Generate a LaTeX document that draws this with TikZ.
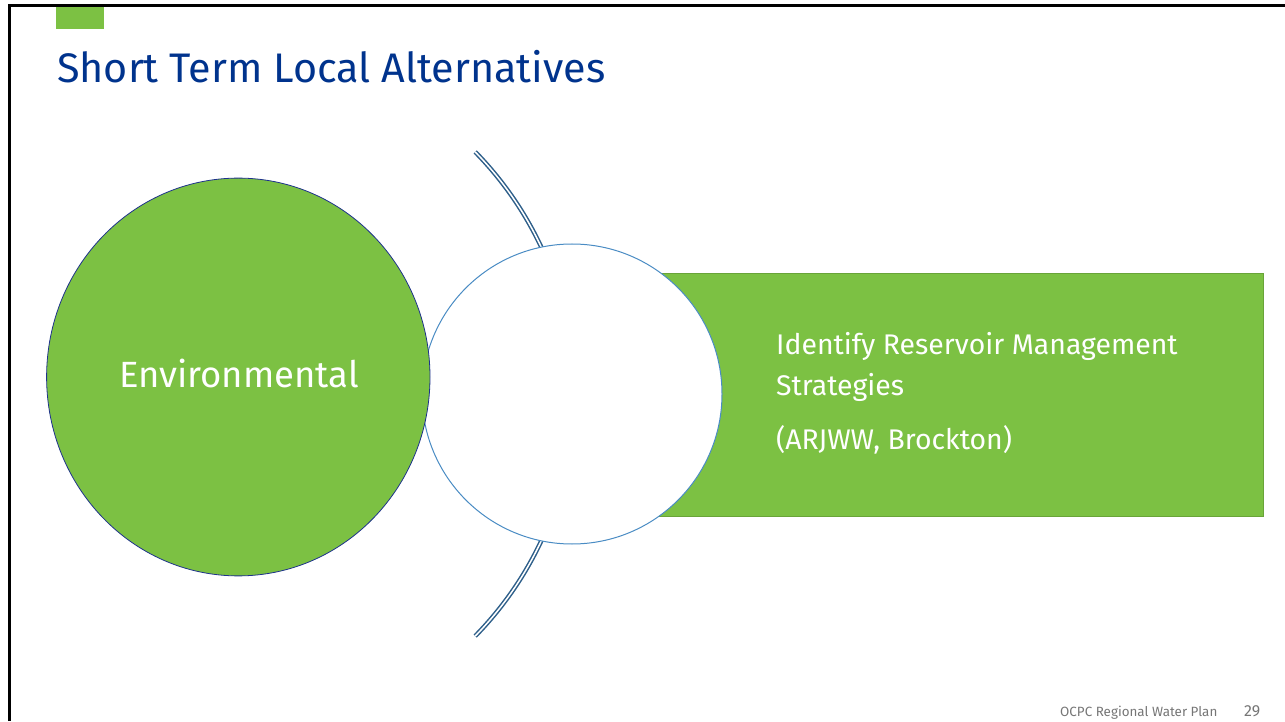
\documentclass[tikz,border=0pt]{standalone}
\usepackage{fontspec}
\setmainfont{Fira Sans}
\usetikzlibrary{positioning}
\definecolor{ocgreen}{RGB}{124,193,67}
\definecolor{octitle}{RGB}{0,51,141}
\definecolor{ocarc}{RGB}{46,95,138}
\definecolor{ocring}{RGB}{74,140,196}
\definecolor{ocedge}{RGB}{30,50,140}
\definecolor{ocfoot}{RGB}{118,118,118}
\tikzset{
    frameline/.style = {line width=2.2pt, draw=black},
    arcline/.style   = {draw=ocarc, line width=1.5pt, double=white, double distance=1.5pt},
    greenbox/.style  = {fill=ocgreen, draw=ocgreen!85!black, line width=0.6pt},
    ringcirc/.style  = {fill=white, draw=ocring, line width=1pt},
    bubble/.style    = {fill=ocgreen, draw=ocedge, line width=0.8pt},
    boxtext/.style   = {anchor=base west, inner sep=0pt, text=white, font=\fontsize{28.4}{32}\selectfont},
}

\begin{document}
\begin{tikzpicture}[x=1pt, y=1pt]
    \useasboundingbox (0,0) rectangle (1285,721);
    % frame and tab
    \draw[frameline] (9.5,0) -- (9.5,715.5) -- (1285,715.5);
    \fill[ocgreen] (56,713.7) rectangle (104,692);
    \node[anchor=base west, inner sep=0pt, text=octitle, font=\fontsize{41.3}{46}\selectfont] (title) at (57,638) {Short Term Local Alternatives};
    % bracket arcs
    \draw[arcline] (228,327) ++(44.4:346pt) arc[start angle=44.4, end angle=20, radius=346pt];
    \draw[arcline] (228,327) ++(-44.4:346pt) arc[start angle=-44.4, end angle=-20, radius=346pt];
    % box, ring and bubble
    \draw[greenbox] (600,205) rectangle (1263,448);
    \draw[ringcirc] (572,327) circle [radius=150pt];
    \draw[bubble] (238.3,344) ellipse [x radius=191.7pt, y radius=198.9pt];
    \coordinate (ringc) at (572,327);
    \node[anchor=base, inner sep=0pt, text=white, font=\fontsize{36.5}{42}\selectfont] (env) at (239,333) {Environmental};
    \node[boxtext] (b1) at (776,366) {Identify Reservoir Management};
    \node[boxtext] (b2) at (776,325) {Strategies};
    \node[boxtext] (b3) at (776,271) {(ARJWW, Brockton)};
    % footer
    \begin{scope}[every node/.style = {anchor=base west, inner sep=0pt, text=ocfoot}]
        \node[font=\fontsize{13.4}{15}\selectfont] (foot) at (1060,4.3) {OCPC Regional Water Plan};
        \node[font=\fontsize{16}{18}\selectfont] (page) at (1244,4.3) {29};
    \end{scope}
\end{tikzpicture}
\end{document}
